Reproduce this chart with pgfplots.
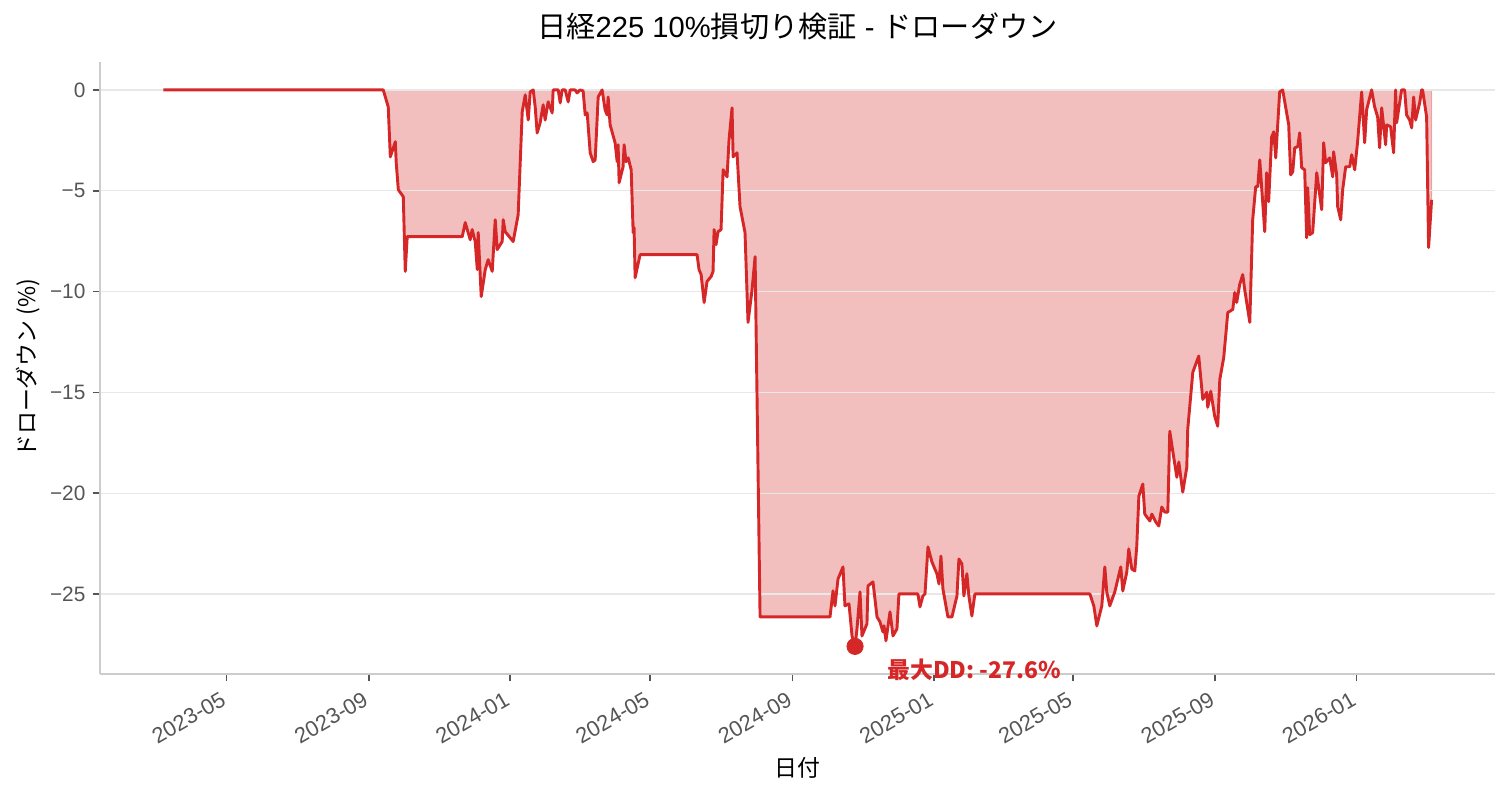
\documentclass[border=0pt]{standalone}
\usepackage{pgfplots}
\pgfplotsset{compat=1.18}
\usepackage{pgfplotstable}
\usepackage{fontspec}
\setmainfont{Noto Sans CJK JP}
\newfontfamily\latinfont{Liberation Sans}
\definecolor{ddred}{RGB}{214,39,40}
\definecolor{spine}{RGB}{204,204,204}
\definecolor{ticklab}{RGB}{85,85,85}
\definecolor{gridc}{RGB}{232,232,232}

% x = days since 2023-01-01, y = drawdown (%)
\pgfplotstableread{
x y
65.7 0
255.5 0
259.8 -0.84
261.6 -3.32
265.9 -2.57
266.7 -3.61
268.5 -4.95
272.8 -5.30
274.5 -9.00
276.2 -7.28
323.7 -7.28
326.3 -6.58
330.6 -7.43
332.3 -6.93
334.9 -7.52
336.7 -8.91
337.5 -7.08
340.1 -10.25
343.6 -8.91
346.1 -8.42
349.6 -9.00
352.2 -6.44
353.9 -7.92
358.2 -7.52
359.1 -6.44
360.8 -7.03
367.7 -7.52
372.0 -6.19
375.5 -1.09
378.1 -0.25
380.7 -1.49
382.4 -0.10
385.0 0
386.7 -0.84
388.4 -2.13
391.0 -1.63
393.6 -0.74
395.3 -1.49
397.9 -0.59
401.4 -1.14
402.2 0
406.6 0
408.3 -0.64
410.0 0
412.6 0
415.2 -0.59
416.9 0
421.2 0
422.9 -0.15
425.5 0
428.1 -0.05
429.9 -1.24
431.6 -1.14
434.2 -3.12
436.8 -3.56
438.5 -3.47
441.1 -0.35
444.5 0
447.1 -0.99
448.8 -1.24
449.7 -0.35
451.4 -1.73
455.7 -2.62
457.5 -3.56
458.3 -2.72
459.2 -4.60
462.6 -3.81
463.5 -2.72
465.2 -3.56
467.0 -3.37
469.6 -3.96
471.3 -7.08
472.1 -6.83
473.0 -9.31
477.3 -8.17
526.5 -8.17
528.2 -8.91
530.0 -9.16
532.6 -10.54
535.1 -9.50
538.6 -9.26
540.3 -9.00
541.2 -6.93
542.9 -7.67
544.6 -7.03
547.2 -6.93
549.0 -3.96
552.4 -4.31
554.1 -2.48
556.7 -0.89
557.6 -3.32
561.0 -3.12
563.6 -5.79
567.9 -7.08
570.5 -11.53
574.0 -9.90
576.6 -8.27
580.9 -26.14
641.3 -26.14
643.9 -24.85
645.6 -25.59
648.2 -24.26
652.5 -23.66
654.2 -25.59
657.7 -25.49
660.3 -27.08
662.9 -27.60
664.6 -26.73
667.2 -24.90
668.9 -27.08
673.2 -26.48
674.1 -24.60
678.4 -24.40
681.9 -26.14
684.4 -26.38
687.0 -26.88
687.9 -26.58
689.6 -27.32
693.1 -25.89
695.7 -27.08
699.1 -26.73
700.8 -25.00
717.2 -25.00
719.0 -25.64
721.5 -25.10
723.3 -25.00
725.9 -22.67
729.3 -23.41
733.6 -24.00
735.4 -24.50
737.1 -23.12
738.8 -24.75
743.1 -26.14
746.6 -26.14
750.9 -25.10
752.6 -23.27
755.2 -23.51
756.9 -25.10
759.5 -24.00
761.2 -25.10
763.8 -26.09
766.4 -25.00
865.7 -25.00
869.1 -25.59
871.7 -26.58
876.0 -25.59
878.6 -23.66
880.3 -24.90
882.9 -25.59
887.2 -24.90
892.4 -23.66
894.1 -24.85
897.6 -23.91
899.3 -22.77
901.9 -23.76
904.5 -23.86
906.2 -22.62
908.0 -20.15
911.4 -19.55
913.1 -21.04
917.5 -21.38
919.2 -21.04
922.6 -21.43
925.2 -21.63
927.8 -20.69
930.4 -20.94
933.0 -20.94
934.7 -16.93
937.3 -17.92
940.8 -19.21
942.5 -18.46
945.9 -19.95
949.4 -18.71
950.2 -16.83
954.6 -14.00
959.7 -13.20
963.2 -15.35
966.6 -15.00
967.5 -15.74
970.1 -14.95
973.5 -16.19
976.1 -16.68
977.9 -14.36
981.3 -13.27
984.8 -11.04
989.1 -10.89
990.8 -10.05
992.5 -10.54
995.1 -9.65
997.7 -9.16
999.4 -9.90
1003.8 -11.53
1006.3 -6.44
1008.9 -4.80
1010.7 -4.80
1012.4 -3.47
1016.7 -7.03
1018.4 -4.11
1020.1 -5.54
1022.7 -2.33
1024.5 -2.08
1026.2 -3.37
1029.6 -0.10
1032.2 0
1037.4 -1.73
1039.1 -4.21
1040.9 -4.06
1042.6 -2.87
1045.2 -2.82
1046.9 -2.13
1048.6 -3.86
1051.2 -3.96
1052.9 -7.33
1053.8 -4.85
1055.5 -7.18
1058.1 -7.08
1061.6 -4.11
1065.9 -5.94
1067.6 -2.62
1069.3 -3.61
1072.8 -3.37
1075.4 -4.31
1076.2 -3.07
1078.8 -4.21
1079.7 -5.79
1082.3 -6.44
1084.0 -4.95
1086.6 -3.81
1090.1 -3.81
1091.8 -3.22
1094.4 -3.96
1096.9 -2.57
1100.4 -0.10
1103.0 -2.62
1104.7 -0.99
1109.0 0
1111.6 -0.84
1114.2 -1.34
1115.9 -2.87
1117.7 -0.89
1121.1 -2.72
1122.0 -1.73
1125.4 -1.83
1128.0 -3.12
1129.7 0
1130.6 -1.63
1134.9 0
1137.5 0
1139.2 -1.24
1141.8 -1.49
1143.6 -1.88
1145.3 -0.35
1147.0 -1.49
1150.5 -0.64
1152.2 0
1153.0 0
1156.5 -1.34
1158.2 -7.82
1160.8 -5.45
}\dd

\begin{document}
\begin{tikzpicture}
\begin{axis}[
  set layers,
  scale only axis,
  width=669.6pt, height=293.8pt,
  xmin=10.9, xmax=1215.6,
  ymin=-28.98, ymax=1.38,
  axis x line*=bottom, axis y line*=left,
  axis line style={draw=spine, line width=1pt},
  tick align=outside,
  major tick length=3.5pt,
  tick style={draw=ticklab, line width=0.8pt},
  ymajorgrids,
  grid style={draw=gridc, line width=0.6pt},
  xtick={120,243,365,486,609,731,851,974,1096},
  xticklabels={2023-05,2023-09,2024-01,2024-05,2024-09,2025-01,2025-05,2025-09,2026-01},
  ytick={-25,-20,-15,-10,-5,0},
  yticklabels={−25,−20,−15,−10,−5,0},
  x tick label style={font=\latinfont\fontsize{10.5}{12}\selectfont, text=ticklab, xshift=-2.5pt, yshift=-1.5pt, rotate=30, anchor=north east, inner sep=2pt},
  y tick label style={font=\latinfont\fontsize{10}{12}\selectfont, text=ticklab},
  title={日経{\latinfont 225 10\%}損切り検証{\latinfont\ - }ドローダウン},
  title style={font=\fontsize{14}{17}\selectfont, yshift=1pt},
  xlabel={日付},
  ylabel={ドローダウン (\%)},
  label style={font=\fontsize{11}{13}\selectfont},
  ylabel style={yshift=-2pt},
  clip=false,
]
\addplot[on layer=axis background, fill=ddred, fill opacity=0.3, draw=ddred, draw opacity=0.3, line width=0.5pt] table[x=x,y=y] {\dd} \closedcycle;
\addplot[ddred, line width=1.4pt, line join=round] table[x=x,y=y] {\dd};
\addplot[only marks, mark=*, mark size=3.9pt, ddred, mark options={draw=ddred, fill=ddred}] coordinates {(662.9,-27.6)};
\node[anchor=west, inner sep=0pt, text=ddred, font=\bfseries\fontsize{11}{13}\selectfont] at (axis cs:690.5,-28.75) {最大DD: -27.6\%};
\end{axis}
\pgfresetboundingbox
\path[use as bounding box] ([shift={(-48pt,-57.1pt)}]current axis.south west) rectangle ([shift={(6.7pt,29.8pt)}]current axis.north east);
\end{tikzpicture}
\end{document}
